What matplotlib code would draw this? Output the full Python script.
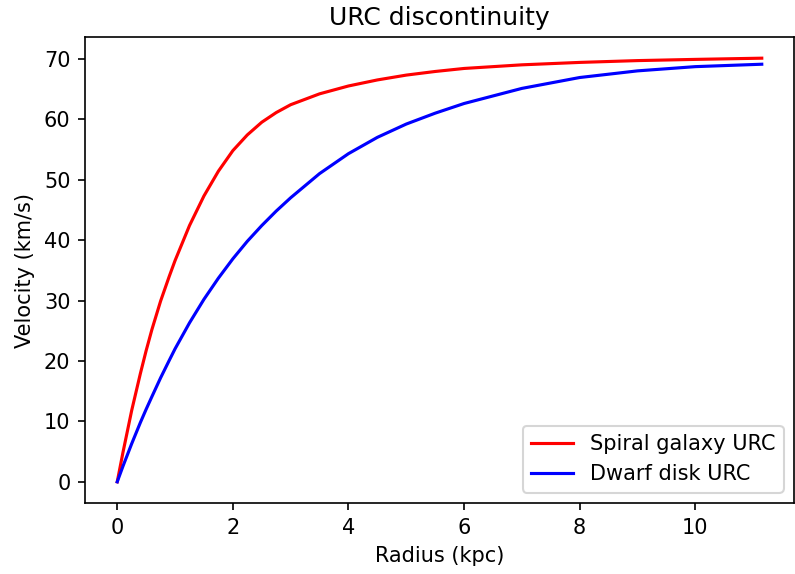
import matplotlib
matplotlib.use("Agg")
import matplotlib.pyplot as plt

radius = [0, 0.1, 0.25, 0.4, 0.5, 0.6, 0.75, 0.9, 1.0, 1.25, 1.5, 1.75, 2.0,
          2.25, 2.5, 2.75, 3.0, 3.5, 4.0, 4.5, 5.0, 5.5, 6.0, 7.0, 8.0, 9.0,
          10.0, 11.15]
spiral = [0, 4.9, 11.8, 17.9, 21.7, 25.2, 29.9, 34.0, 36.6, 42.4, 47.3, 51.4,
          54.8, 57.4, 59.5, 61.1, 62.4, 64.2, 65.5, 66.5, 67.3, 67.9, 68.4,
          69.0, 69.4, 69.7, 69.9, 70.1]
dwarf = [0, 2.6, 6.3, 9.8, 12.0, 14.1, 17.2, 20.1, 22.0, 26.3, 30.2, 33.7,
         36.9, 39.8, 42.4, 44.8, 47.0, 51.0, 54.3, 57.0, 59.2, 61.0, 62.6,
         65.1, 66.9, 68.0, 68.7, 69.1]

plt.rcParams['font.family'] = ['DejaVu Sans']
fig = plt.figure(figsize=(795 / 150, 574 / 150), dpi=150)
ax = fig.add_axes([85 / 795, 71 / 574, 709 / 795, 466 / 574])
ax.plot(radius, spiral, color='red', lw=1.5, label='Spiral galaxy URC')
ax.plot(radius, dwarf, color='blue', lw=1.5, label='Dwarf disk URC')
ax.set_title('URC discontinuity', fontsize=12)
ax.set_xlabel('Radius (kpc)', fontsize=10)
ax.set_ylabel('Velocity (km/s)', fontsize=10)
ax.set_xticks([0, 2, 4, 6, 8, 10])
ax.set_yticks([0, 10, 20, 30, 40, 50, 60, 70])
ax.legend(loc='lower right', fontsize=10)
fig.savefig('out.png', dpi=150)
